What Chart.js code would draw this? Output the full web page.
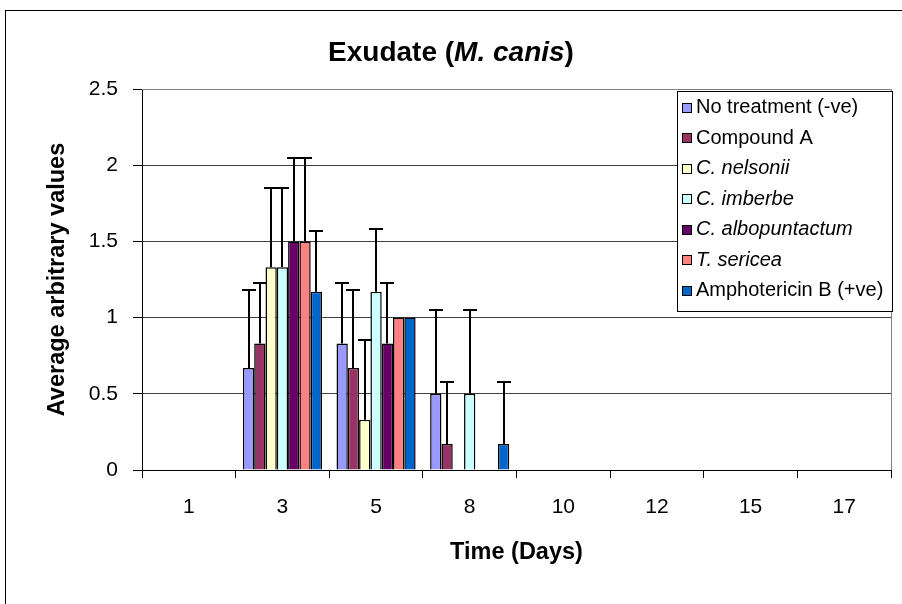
<!DOCTYPE html>
<html>
<head>
<meta charset="utf-8">
<title>Exudate (M. canis)</title>
<script src="https://cdn.jsdelivr.net/npm/chart.js@4.4.1/dist/chart.umd.min.js"></script>
<style>
    html, body { margin: 0; padding: 0; background: #fff; }
    canvas { display: block; }
</style>
</head>
<body>
<canvas id="exudateChart" width="902" height="604"></canvas>
<script>
const days = ['1', '3', '5', '8', '10', '12', '15', '17'];
const yTicks = [0, 0.5, 1, 1.5, 2, 2.5];

const seriesNames = ['No treatment (-ve)', 'Compound A', 'C. nelsonii', 'C. imberbe', 'C. albopuntactum', 'T. sericea', 'Amphotericin B (+ve)'];
const seriesItalic = [false, false, true, true, true, true, false];
const seriesColors = ['#9999FF', '#993366', '#FFFFCC', '#CCFFFF', '#660066', '#FF8080', '#0066CC'];

const noTreatment = [0, 0.67, 0.83, 0.5, 0, 0, 0, 0];
const compoundA = [0, 0.83, 0.67, 0.17, 0, 0, 0, 0];
const nelsonii = [0, 1.33, 0.33, 0, 0, 0, 0, 0];
const imberbe = [0, 1.33, 1.17, 0.5, 0, 0, 0, 0];
const albopuntactum = [0, 1.5, 0.83, 0, 0, 0, 0, 0];
const sericea = [0, 1.5, 1.0, 0, 0, 0, 0, 0];
const amphotericin = [0, 1.17, 1.0, 0.17, 0, 0, 0, 0];

// upward error (SD) for each series
const noTreatmentErr = [0, 0.51, 0.40, 0.55, 0, 0, 0, 0];
const compoundAErr = [0, 0.40, 0.51, 0.41, 0, 0, 0, 0];
const nelsoniiErr = [0, 0.52, 0.52, 0, 0, 0, 0, 0];
const imberbeErr = [0, 0.52, 0.41, 0.55, 0, 0, 0, 0];
const albopuntactumErr = [0, 0.55, 0.40, 0, 0, 0, 0, 0];
const sericeaErr = [0, 0.55, 0, 0, 0, 0, 0, 0];
const amphotericinErr = [0, 0.40, 0, 0.41, 0, 0, 0, 0];

const seriesValues = [noTreatment, compoundA, nelsonii, imberbe, albopuntactum, sericea, amphotericin];
const seriesErrors = [noTreatmentErr, compoundAErr, nelsoniiErr, imberbeErr, albopuntactumErr, sericeaErr, amphotericinErr];

const FONT = "'Liberation Sans', Arial, sans-serif";

document.addEventListener('DOMContentLoaded', () => {

    // white page, outer frame and grey plot border
    const framePlugin = {
        id: 'frame',
        beforeDraw(chart) {
            const { ctx, width, height } = chart;
            ctx.save();
            ctx.fillStyle = '#fff';
            ctx.fillRect(0, 0, width, height);
            ctx.strokeStyle = '#000';
            ctx.lineWidth = 1;
            ctx.strokeRect(5.5, 10.5, width + 20, height + 20);
            ctx.restore();
        },
        beforeDatasetsDraw(chart) {
            const { ctx, chartArea: a } = chart;
            ctx.save();
            ctx.strokeStyle = '#808080';
            ctx.lineWidth = 1;
            ctx.beginPath();
            ctx.moveTo(a.left, Math.round(a.top) + 0.5);
            ctx.lineTo(Math.round(a.right) + 0.5, Math.round(a.top) + 0.5);
            ctx.lineTo(Math.round(a.right) + 0.5, a.bottom);
            ctx.stroke();
            ctx.restore();
        }
    };

    const errorBarPlugin = {
        id: 'errorBars',
        afterDatasetsDraw(chart) {
            const { ctx } = chart;
            const yScale = chart.scales.y;
            ctx.save();
            ctx.strokeStyle = '#000';
            ctx.lineWidth = 2;
            chart.data.datasets.forEach((ds, i) => {
                const meta = chart.getDatasetMeta(i);
                ds.data.forEach((v, j) => {
                    const err = seriesErrors[i][j];
                    if (!err) return;
                    const bar = meta.data[j];
                    const x = Math.round(bar.x);
                    const yTop = Math.round(yScale.getPixelForValue(v + err));
                    ctx.beginPath();
                    ctx.moveTo(x, bar.y);
                    ctx.lineTo(x, yTop);
                    ctx.moveTo(x - 7, yTop);
                    ctx.lineTo(x + 7, yTop);
                    ctx.stroke();
                });
            });
            ctx.restore();
        }
    };

    // title with italic species name, legend box over the plot
    const textPlugin = {
        id: 'texts',
        afterDraw(chart) {
            const { ctx, chartArea: a, width } = chart;
            ctx.save();

            const parts = [
                { t: 'Exudate (', f: `bold 28px ${FONT}` },
                { t: 'M. canis', f: `italic bold 28px ${FONT}` },
                { t: ')', f: `bold 28px ${FONT}` }
            ];
            let total = 0;
            parts.forEach(p => { ctx.font = p.f; p.w = ctx.measureText(p.t).width; total += p.w; });
            let tx = width / 2 - total / 2;
            ctx.fillStyle = '#000';
            ctx.textBaseline = 'middle';
            ctx.textAlign = 'left';
            parts.forEach(p => { ctx.font = p.f; ctx.fillText(p.t, tx, 53); tx += p.w; });

            // legend
            const rowH = 30.5;
            const legendFont = i => `${seriesItalic[i] ? 'italic ' : ''}20px ${FONT}`;
            let maxW = 0;
            chart.data.datasets.forEach((ds, i) => {
                ctx.font = legendFont(i);
                maxW = Math.max(maxW, ctx.measureText(ds.label).width);
            });
            const right = Math.round(a.right) + 1.5;
            const top = Math.round(a.top) + 2.5;
            const left = Math.round(right - (maxW + 28));
            const bottom = top + 220;
            ctx.fillStyle = '#fff';
            ctx.fillRect(left, top, right - left, bottom - top);
            ctx.strokeStyle = '#000';
            ctx.lineWidth = 1;
            ctx.strokeRect(left + 0.5, top, right - left - 0.5, bottom - top);

            chart.data.datasets.forEach((ds, i) => {
                const cy = top + 16 + rowH * i;
                ctx.fillStyle = ds.backgroundColor;
                ctx.fillRect(left + 5, Math.round(cy - 5), 10, 10);
                ctx.strokeStyle = '#000';
                ctx.strokeRect(left + 5.5, Math.round(cy - 5) + 0.5, 9, 9);
                ctx.fillStyle = '#000';
                ctx.font = legendFont(i);
                ctx.fillText(ds.label, left + 19, cy);
            });
            ctx.restore();
        }
    };

    const datasets = seriesNames.map((name, i) => ({
        label: name,
        data: seriesValues[i],
        backgroundColor: seriesColors[i],
        borderColor: '#000',
        borderWidth: 1.5,
        categoryPercentage: 0.845,
        barPercentage: 1.0
    }));

    const ctx = document.getElementById('exudateChart').getContext('2d');
    new Chart(ctx, {
        type: 'bar',
        data: { labels: days, datasets: datasets },
        options: {
            responsive: false,
            animation: false,
            layout: { padding: { left: 30, top: 89, right: 11, bottom: 34 } },
            plugins: {
                legend: { display: false },
                title: { display: false },
                tooltip: { enabled: false }
            },
            scales: {
                x: {
                    grid: {
                        offset: true,
                        drawOnChartArea: false,
                        drawTicks: true,
                        tickLength: 8,
                        tickColor: '#000'
                    },
                    border: { display: true, color: '#000', width: 1 },
                    ticks: { color: '#000', padding: 17, font: { family: FONT, size: 21 } },
                    title: {
                        display: true,
                        text: 'Time (Days)',
                        color: '#000',
                        font: { family: FONT, size: 23.5, weight: 'bold' },
                        padding: { top: 0, bottom: 3 }
                    },
                    afterFit(scale) { scale.height = 100; }
                },
                y: {
                    min: 0,
                    max: 2.5,
                    afterBuildTicks(scale) { scale.ticks = yTicks.map(v => ({ value: v })); },
                    grid: {
                        color: ctx => (ctx.tick && ctx.tick.value === 2.5) ? '#808080' : '#404040',
                        tickColor: '#000',
                        tickLength: 9,
                        drawTicks: true
                    },
                    border: { display: true, color: '#000', width: 1 },
                    ticks: {
                        color: '#000',
                        padding: 15,
                        font: { family: FONT, size: 21 },
                        callback: v => String(v)
                    },
                    title: {
                        display: true,
                        text: 'Average arbitrary values',
                        color: '#000',
                        font: { family: FONT, size: 23.5, weight: 'bold' },
                        padding: { top: 13, bottom: 0 }
                    },
                    afterFit(scale) { scale.width = 112; }
                }
            }
        },
        plugins: [framePlugin, errorBarPlugin, textPlugin]
    });
});
</script>
</body>
</html>
